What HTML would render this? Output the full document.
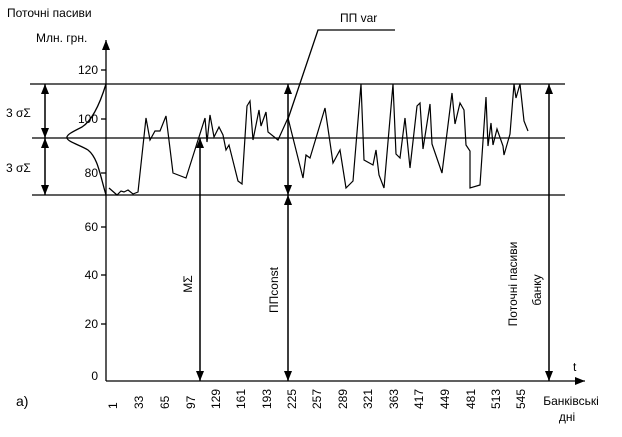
<!DOCTYPE html>
<html><head><meta charset="utf-8"><style>
body{margin:0;background:#fff}
svg{display:block;font-family:"Liberation Sans",Arial,sans-serif}
</style></head><body>
<svg width="622" height="437" viewBox="0 0 622 437" xmlns="http://www.w3.org/2000/svg">
<defs>
<marker id="a" viewBox="0 0 10 10" refX="10" refY="5" markerWidth="10" markerHeight="10" markerUnits="userSpaceOnUse" orient="auto"><path d="M0,1 L10,5 L0,9 z" fill="#000"/></marker>
</defs>
<g stroke="#000" stroke-width="1.3" fill="none">
<line x1="106" y1="381" x2="106" y2="40" marker-end="url(#a)"/>
<line x1="106" y1="381" x2="585" y2="381" marker-end="url(#a)"/>
<line x1="101" y1="70" x2="106" y2="70"/>
<line x1="101" y1="119" x2="106" y2="119"/>
<line x1="101" y1="173" x2="106" y2="173"/>
<line x1="101" y1="227" x2="106" y2="227"/>
<line x1="101" y1="275" x2="106" y2="275"/>
<line x1="101" y1="324" x2="106" y2="324"/>
<line x1="30" y1="84" x2="565" y2="84"/>
<line x1="32" y1="138" x2="565" y2="138"/>
<line x1="32" y1="195" x2="565" y2="195"/>
<line x1="45" y1="138" x2="45" y2="84" marker-end="url(#a)"/>
<line x1="45" y1="84" x2="45" y2="138" marker-end="url(#a)"/>
<line x1="45" y1="195" x2="45" y2="138" marker-end="url(#a)"/>
<line x1="45" y1="138" x2="45" y2="195" marker-end="url(#a)"/>
<path d="M106,84 C98,110 90,122 82,127 C72,132 66,135 67,138 C68,142 80,145 88,150 C98,158 100,175 106,195"/>
<line x1="200" y1="381" x2="200" y2="138" marker-end="url(#a)"/>
<line x1="200" y1="138" x2="200" y2="381" marker-end="url(#a)"/>
<line x1="288" y1="195" x2="288" y2="84" marker-end="url(#a)"/>
<line x1="288" y1="84" x2="288" y2="195" marker-end="url(#a)"/>
<line x1="288" y1="195" x2="288" y2="381" marker-end="url(#a)"/>
<line x1="288" y1="381" x2="288" y2="195" marker-end="url(#a)"/>
<line x1="549" y1="381" x2="549" y2="84" marker-end="url(#a)"/>
<line x1="549" y1="84" x2="549" y2="381" marker-end="url(#a)"/>
<polyline points="288,119 318,30 395,30"/>
<polyline stroke-width="1.2" points="109,188 117,195 121,191 124,192 128,190 133,194 138,192 146,118 150,140 155,131 160,131 166,116 173,173 186,178 205,118 207,142 210,115 214,137 219,127 223,135 226,150 229,145 238,181 242,184 247,106 250,101 253,140 259,110 261,126 266,112 268,132 278,140 288,118 303,178 306,155 310,158 325,108 333,163 340,150 346,188 353,181 361,84 364,160 373,165 376,150 379,175 384,188 393,84 396,154 400,158 405,118 410,168 417,106 420,103 423,149 430,104 432,144 442,173 452,93 455,124 460,103 464,110 466,145 470,151 470,188 480,185 486,97 488,146 491,123 493,145 497,129 503,146 504,155 510,134 514,84 516,98 520,84 524,121 528,131"/>
</g>
<g font-size="12" fill="#000">
<text x="7" y="17">Поточні пасиви</text>
<text x="36" y="42">Млн. грн.</text>
<text x="98" y="74" text-anchor="end">120</text>
<text x="98" y="123" text-anchor="end">100</text>
<text x="98" y="177" text-anchor="end">80</text>
<text x="98" y="231" text-anchor="end">60</text>
<text x="98" y="279" text-anchor="end">40</text>
<text x="98" y="328" text-anchor="end">20</text>
<text x="98" y="380" text-anchor="end">0</text>
<text x="6" y="117">3 σΣ</text>
<text x="6" y="172">3 σΣ</text>
<text x="340" y="22">ПП var</text>
<text x="573" y="371">t</text>
<text x="16" y="406" font-size="14">а)</text>
<text x="571" y="405" text-anchor="middle">Банківські</text>
<text x="567" y="421" text-anchor="middle">дні</text>
<text transform="translate(192,284) rotate(-90)" text-anchor="middle">MΣ</text>
<text transform="translate(278,290) rotate(-90)" text-anchor="middle">ППconst</text>
<text transform="translate(517,284) rotate(-90)" text-anchor="middle">Поточні пасиви</text>
<text transform="translate(541,290) rotate(-90)" text-anchor="middle">банку</text>
<g>
<text transform="translate(117,409) rotate(-90)">1</text>
<text transform="translate(143,409) rotate(-90)">33</text>
<text transform="translate(169,409) rotate(-90)">65</text>
<text transform="translate(195,409) rotate(-90)">97</text>
<text transform="translate(220,409) rotate(-90)">129</text>
<text transform="translate(245,409) rotate(-90)">161</text>
<text transform="translate(271,409) rotate(-90)">193</text>
<text transform="translate(296,409) rotate(-90)">225</text>
<text transform="translate(321,409) rotate(-90)">257</text>
<text transform="translate(347,409) rotate(-90)">289</text>
<text transform="translate(372,409) rotate(-90)">321</text>
<text transform="translate(398,409) rotate(-90)">363</text>
<text transform="translate(423,409) rotate(-90)">417</text>
<text transform="translate(449,409) rotate(-90)">449</text>
<text transform="translate(475,409) rotate(-90)">481</text>
<text transform="translate(500,409) rotate(-90)">513</text>
<text transform="translate(525,409) rotate(-90)">545</text>
</g>
</g>
</svg>
</body></html>
